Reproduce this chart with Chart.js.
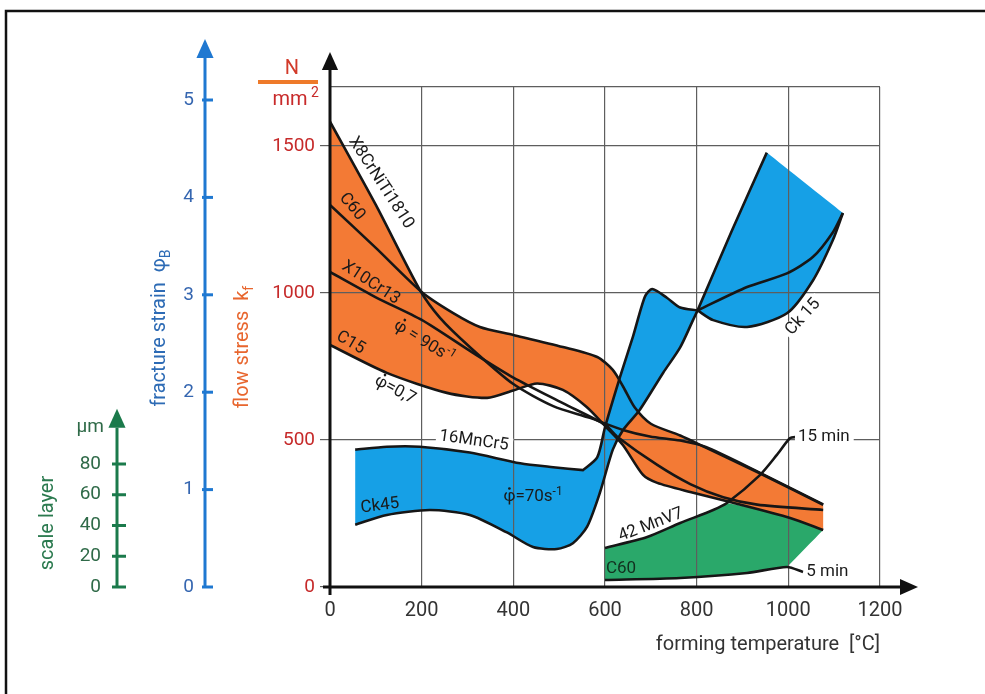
<!DOCTYPE html>
<html>
<head>
<meta charset="utf-8">
<title>Flow stress, fracture strain and scale layer vs forming temperature</title>
<script src="https://cdn.jsdelivr.net/npm/chart.js@4.4.1/dist/chart.umd.min.js"></script>
<style>
  html, body { margin: 0; padding: 0; background: #fff; overflow: hidden; }
  canvas { display: block; }
</style>
</head>
<body>
<canvas id="chart" width="985" height="694"></canvas>
<script>
'use strict';

// axis ticks
const tempTicks = [0, 200, 400, 600, 800, 1000, 1200];   // forming temperature [°C]
const stressTicks = [0, 500, 1000, 1500, 1700];          // flow stress k_f [N/mm²], 1700 = top grid line
const strainTicks = [0, 1, 2, 3, 4, 5];                  // fracture strain φB
const layerTicks = [0, 20, 40, 60, 80];                  // scale layer [µm]

// flow stress curves, [°C, N/mm²]
const x8CrNiTi1810 = [[0, 1582], [100, 1299], [196, 1010], [240, 915], [305, 816], [400, 690], [487, 615],
  [567, 575], [639, 534], [698, 512], [764, 498], [820, 476], [932, 393], [1076, 281]];
const c60Stress = [[0, 1299], [100, 1153], [200, 1003], [268, 932], [327, 884], [400, 857], [508, 816],
  [583, 782], [617, 738], [640, 680], [665, 610], [700, 555], [764, 515], [820, 474], [932, 391], [1076, 279]];
const x10Cr13 = [[0, 1071], [100, 985], [200, 908], [312, 796], [400, 712], [508, 625], [600, 552],
  [626, 512], [714, 415], [786, 350], [858, 305], [932, 280], [1076, 262]];
const c15Stress = [[0, 823], [124, 728], [255, 660], [343, 643], [400, 668], [452, 692], [508, 670],
  [560, 612], [600, 548], [639, 483], [683, 381], [714, 354], [786, 323], [873, 289], [1004, 235], [1076, 194]];

// fracture strain band, phi = 70 1/s, [°C, φB]
const mnCr5Upper = [[55, 1.41], [124, 1.44], [196, 1.44], [305, 1.38], [415, 1.27], [487, 1.23], [552, 1.20]];
const riseToCk15 = [[552, 1.20], [583, 1.33], [600, 1.64], [633, 2.16], [661, 2.57], [687, 2.98], [703, 3.06],
  [735, 2.97], [764, 2.87], [802, 2.84]];
const ck45Lower = [[55, 0.64], [124, 0.74], [218, 0.79], [305, 0.74], [386, 0.56], [443, 0.41], [495, 0.39],
  [530, 0.45], [561, 0.62], [589, 0.97], [617, 1.41], [639, 1.61], [676, 1.82], [727, 2.20], [764, 2.46],
  [792, 2.74], [802, 2.84]];
const wedgeLeft = [[802, 2.84], [877, 3.66], [953, 4.46]];
const wedgeTop = [[953, 4.46], [1119, 3.84]];
const ck15Bowl = [[802, 2.84], [836, 2.74], [910, 2.67], [997, 2.81], [1054, 3.15], [1097, 3.56], [1119, 3.84]];
const ck15Inner = [[802, 2.84], [910, 3.08], [997, 3.22], [1054, 3.39], [1097, 3.64], [1119, 3.84]];

// scale layer thickness, [°C, µm]
const mnV7Layer = [[600, 25.4], [692, 32.5], [764, 41.6], [836, 50.1], [866, 54.6], [938, 72.8], [975, 85.9],
  [1004, 96.9], [1019, 97.6]];                                   // 42 MnV7, 15 min
const layerRim = [[866, 54.6], [940, 50.3], [1004, 45.0], [1076, 37.1]];
const c60Layer5min = [[600, 4.6], [764, 5.9], [910, 9.1], [997, 13.0], [1032, 9.8]];  // C60, 5 min

const FONT = 'Roboto, "Liberation Sans", Arial, sans-serif';
Chart.defaults.font.family = FONT;

const pts = arr => arr.map(([x, y]) => ({x, y}));
const sharp = arr => [arr[0], ...arr, arr[arr.length - 1]];
const outline = (...pieces) => pts(pieces.flatMap(sharp));
const rev = arr => arr.slice().reverse();
const last = arr => arr[arr.length - 1];

const orangeTop = x8CrNiTi1810.filter(p => p[0] < 200).concat(c60Stress.filter(p => p[0] >= 200));
const orangeOutline = outline(orangeTop, [last(orangeTop), last(c15Stress)], rev(c15Stress));
const blueOutline = outline(mnCr5Upper, riseToCk15, wedgeLeft, wedgeTop, rev(ck15Bowl), rev(ck45Lower),
  [ck45Lower[0], mnCr5Upper[0]]);
const greenOutline = outline(mnV7Layer.slice(0, 5), layerRim, [last(layerRim), c60Layer5min[3]],
  rev(c60Layer5min.slice(0, 4)));

const curve = (data, yAxisID = 'y') => ({
  data: pts(data), yAxisID, showLine: true, fill: false,
  borderColor: '#161616', borderWidth: 2.6, pointRadius: 0, tension: 0.25
});
const area = (data, color, yAxisID) => ({
  data, yAxisID, showLine: true, fill: 'shape', backgroundColor: color,
  borderWidth: 0, borderColor: 'transparent', pointRadius: 0, tension: 0.25
});

// text labels on the curves, placed in [°C, N/mm²]; 'dot' draws φ with a rate dot
const notes = [
  {t: [['X8CrNiTi1810']], at: [111, 1374], rot: 57},
  {t: [['C60']], at: [48, 1293], rot: 50},
  {t: [['X10Cr13']], at: [89, 1034], rot: 33},
  {t: [['\u03c6', 'dot'], [' = 90s'], ['-1', 'sup']], at: [205, 833], rot: 32},
  {t: [['C15']], at: [45, 830], rot: 30},
  {t: [['\u03c6', 'dot'], ['=0,7']], at: [142, 670], rot: 28},
  {t: [['16MnCr5']], at: [314, 497], rot: 8, bg: true},
  {t: [['Ck45']], at: [109, 276], rot: -7},
  {t: [['\u03c6', 'dot'], ['=70s'], ['-1', 'sup']], at: [443, 306], rot: 0},
  {t: [['Ck 15']], at: [1032, 918], rot: -48, bg: true},
  {t: [['42 MnV7']], at: [700, 211], rot: -21},
  {t: [['C60']], at: [635, 61], rot: 0, color: '#12301f'},
  {t: [['15 min']], at: [1021, 510], rot: 0, left: true, bg: true},
  {t: [['5 min']], at: [1039, 51], rot: 0, left: true}
];

function richText(ctx, parts, x, y, o) {
  const size = o.size || 17;
  const small = m => m === 'sub' || m === 'sup';
  const fontOf = m => `${small(m) ? Math.round(size * 0.68) : size}px ${FONT}`;
  ctx.save();
  ctx.translate(x, y);
  ctx.rotate((o.rot || 0) * Math.PI / 180);
  ctx.textBaseline = 'middle';
  ctx.textAlign = 'left';
  let w = 0;
  const widths = parts.map(([t, m]) => {
    ctx.font = fontOf(m);
    const ww = ctx.measureText(t).width;
    w += ww;
    return ww;
  });
  let cx = o.left ? 0 : -w / 2;
  if (o.bg) {
    ctx.fillStyle = '#fff';
    ctx.fillRect(cx - 3, -size * 0.45, w + 7, size * 0.9);
  }
  ctx.fillStyle = o.color || '#1a1a1a';
  parts.forEach(([t, m], i) => {
    ctx.font = fontOf(m);
    const dy = m === 'sub' ? size * 0.32 : m === 'sup' ? -size * 0.32 : 0;
    ctx.fillText(t, cx, dy);
    if (m === 'dot') {
      ctx.beginPath();
      ctx.arc(cx + widths[i] / 2, -size * 0.5, size * 0.08, 0, Math.PI * 2);
      ctx.fill();
    }
    cx += widths[i];
  });
  ctx.restore();
}

function arrow(ctx, x1, y1, x2, y2, color, w, head) {
  const ang = Math.atan2(y2 - y1, x2 - x1);
  const bx = x2 - Math.cos(ang) * head, by = y2 - Math.sin(ang) * head;
  const hw = head * 0.45;
  ctx.strokeStyle = color;
  ctx.fillStyle = color;
  ctx.lineWidth = w;
  ctx.beginPath();
  ctx.moveTo(x1, y1);
  ctx.lineTo(bx, by);
  ctx.stroke();
  ctx.beginPath();
  ctx.moveTo(x2, y2);
  ctx.lineTo(bx + Math.sin(ang) * hw, by - Math.cos(ang) * hw);
  ctx.lineTo(bx - Math.sin(ang) * hw, by + Math.cos(ang) * hw);
  ctx.closePath();
  ctx.fill();
}

const decor = {
  id: 'decor',
  afterDatasetsDraw(chart) {
    const {ctx, scales: {x, y}} = chart;
    notes.forEach(n => richText(ctx, n.t, x.getPixelForValue(n.at[0]), y.getPixelForValue(n.at[1]), n));
  },
  afterDraw(chart) {
    const {ctx, chartArea: a, scales: {y, yPhi, yLayer}} = chart;
    const y0 = y.getPixelForValue(0);
    ctx.save();
    // frame
    ctx.strokeStyle = '#111';
    ctx.lineWidth = 2.5;
    ctx.strokeRect(6, 11, chart.width + 40, chart.height + 40);

    // main axes
    arrow(ctx, a.left, y0 + 8, a.left, a.top - 35, '#111', 3, 18);
    arrow(ctx, a.left - 7, y0, a.right + 38, y0, '#111', 3, 18);

    // fracture strain axis
    const bx = a.left - 125;
    arrow(ctx, bx, yPhi.getPixelForValue(0), bx, a.top - 48, '#1f78d1', 3, 19);
    ctx.font = `19px ${FONT}`;
    ctx.textAlign = 'right';
    ctx.textBaseline = 'middle';
    strainTicks.forEach(v => {
      const py = yPhi.getPixelForValue(v);
      ctx.strokeStyle = '#1f78d1';
      ctx.lineWidth = 3;
      ctx.beginPath();
      ctx.moveTo(bx - 3, py);
      ctx.lineTo(bx + 8, py);
      ctx.stroke();
      ctx.fillStyle = '#3566b0';
      ctx.fillText(String(v), bx - 11, py);
    });

    // scale layer axis
    const gx = a.left - 213;
    arrow(ctx, gx, yLayer.getPixelForValue(0), gx, yLayer.getPixelForValue(116), '#1b7a4b', 3, 19);
    layerTicks.forEach(v => {
      const py = yLayer.getPixelForValue(v);
      ctx.strokeStyle = '#1b7a4b';
      ctx.lineWidth = 3;
      ctx.beginPath();
      ctx.moveTo(gx - 5, py);
      ctx.lineTo(gx + 9, py);
      ctx.stroke();
      ctx.fillStyle = '#2f6a48';
      ctx.fillText(String(v), gx - 16, py);
    });
    ctx.fillText('\u00b5m', gx - 13, yLayer.getPixelForValue(104));

    // unit N / mm²
    ctx.textAlign = 'center';
    ctx.fillStyle = '#d23a2a';
    ctx.font = `20px ${FONT}`;
    ctx.fillText('N', a.left - 38, a.top - 18);
    ctx.strokeStyle = '#ee7a2a';
    ctx.lineWidth = 4;
    ctx.beginPath();
    ctx.moveTo(a.left - 72, a.top - 5);
    ctx.lineTo(a.left - 12, a.top - 5);
    ctx.stroke();
    ctx.fillStyle = '#c82a2a';
    ctx.fillText('mm', a.left - 40, a.top + 13);
    ctx.font = `14px ${FONT}`;
    ctx.fillText('2', a.left - 15, a.top + 6);
    ctx.restore();

    // rotated axis titles
    richText(ctx, [['fracture strain  \u03c6'], ['B', 'sub']], a.left - 170, 328, {rot: -90, size: 20, color: '#2d6bb5'});
    richText(ctx, [['flow stress  k'], ['f', 'sub']], a.left - 87, 347, {rot: -90, size: 20, color: '#e8662e'});
    richText(ctx, [['scale layer']], gx - 69, 523, {rot: -90, size: 20, color: '#2b7a4f'});
  }
};

new Chart(document.getElementById('chart'), {
  type: 'scatter',
  data: {
    datasets: [
      curve(x8CrNiTi1810), curve(c60Stress), curve(x10Cr13), curve(c15Stress),
      curve(mnV7Layer, 'yLayer'), curve(c60Layer5min, 'yLayer'),
      curve(mnCr5Upper.concat(riseToCk15), 'yPhi'), curve(ck15Inner, 'yPhi'),
      curve(ck45Lower.concat(wedgeLeft), 'yPhi'), curve(ck15Bowl, 'yPhi'),
      area(blueOutline, '#16a0e6', 'yPhi'),
      area(greenOutline, '#2aa86a', 'yLayer'),
      area(orangeOutline, '#f37a35', 'y')
    ]
  },
  options: {
    responsive: false,
    animation: false,
    devicePixelRatio: 1,
    layout: {padding: {left: 250, top: 87, right: 105, bottom: 37}},
    plugins: {
      legend: {display: false},
      tooltip: {enabled: false},
      filler: {drawTime: 'beforeDraw'}
    },
    scales: {
      x: {
        type: 'linear', min: 0, max: 1200,
        afterBuildTicks: s => { s.ticks = tempTicks.map(value => ({value})); },
        afterFit: s => { s.height = 70; },
        border: {display: false},
        grid: {color: '#5e5e5e', lineWidth: 1.2, drawTicks: false},
        ticks: {color: '#333', font: {size: 20}, padding: 12, callback: v => String(v)},
        title: {display: true, text: 'forming temperature  [\u00b0C]', align: 'end',
          color: '#333', font: {size: 20}, padding: 0}
      },
      y: {
        type: 'linear', min: 0, max: 1700,
        afterBuildTicks: s => { s.ticks = stressTicks.map(value => ({value})); },
        afterFit: s => { s.width = 80; },
        border: {display: false},
        grid: {
          color: '#5e5e5e', lineWidth: 1.2, tickLength: 10,
          tickColor: c => (c.tick && c.tick.value === 1700 ? 'rgba(0,0,0,0)' : '#5e5e5e')
        },
        ticks: {color: '#c62a2a', font: {size: 19}, padding: 5,
          callback: v => (v === 1700 ? '' : String(v))}
      },
      yPhi: {type: 'linear', display: false, min: 0, max: 5.1335},
      yLayer: {type: 'linear', display: false, min: 0, max: 325.2}
    }
  },
  plugins: [decor]
});
</script>
</body>
</html>
